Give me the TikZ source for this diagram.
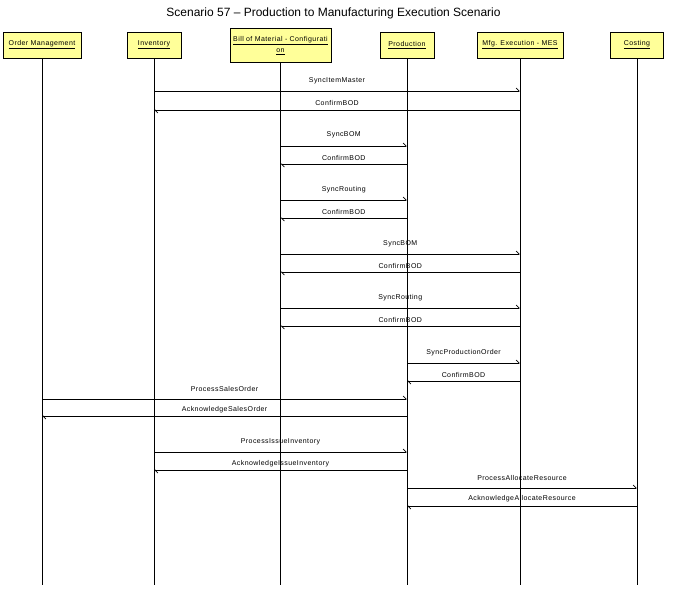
\documentclass[tikz,border=0pt]{standalone}
\usepackage{fontspec}
\setmainfont{Liberation Sans}
\newfontfamily\lblfont[LetterSpace=6]{Liberation Sans}
\usetikzlibrary{arrows.meta,calc}
\definecolor{hdrfill}{HTML}{FFFF99}
\tikzset{
  hdr/.style={draw=black, fill=hdrfill, line width=0.8pt, inner sep=0pt,
    font=\lblfont\fontsize{7}{9}\selectfont, align=center},
  life/.style={line width=0.8pt},
  msg/.style={line width=0.7pt, -{Straight Barb[left,length=3pt,width=6pt]}},
  lbl/.style={font=\lblfont\fontsize{7}{8}\selectfont, inner sep=0pt, yshift=-1.5pt},
  ttl/.style={font=\fontsize{12}{14}\selectfont, inner sep=0pt},
}
\newcommand\msgline[5]{%
  \draw[msg] (#1 |- 0,#3) -- (#2 |- 0,#3);
  \node[lbl] at ($(#1 |- 0,#4)!0.5!(#2 |- 0,#4)$) {#5};
}
\begin{document}
\begin{tikzpicture}[x=1pt,y=-1pt]
\useasboundingbox (0,0) rectangle (674,605);
\node[ttl] (title) at (333.5,13.5) {Scenario 57 – Production to Manufacturing Execution Scenario};

\node[hdr, minimum width=78pt, minimum height=26pt] (om) at (42,45) {\underline{Order Management}};
\node[hdr, minimum width=54pt, minimum height=26pt] (inv) at (154,45) {\underline{Inventory}};
\node[hdr, minimum width=101pt, minimum height=34pt] (bom) at (280.5,45.5) {\underline{Bill of Material - Configurati}\\[2pt]\underline{on}};
\node[hdr, minimum width=54pt, minimum height=26pt] (prod) at (407,45) {\underline{Production}};
\node[hdr, minimum width=86pt, minimum height=26pt] (mes) at (520,45) {\underline{Mfg. Execution - MES}};
\node[hdr, minimum width=53pt, minimum height=26pt] (cost) at (637,45) {\underline{Costing}};

\foreach \n in {om,inv,bom,prod,mes,cost}{
  \coordinate (\n end) at (\n.south |- 0,585);
  \draw[life] (\n.south) -- (\n end);
}

\msgline{inv}{mes}{91}{79}{SyncItemMaster}
\msgline{mes}{inv}{110}{101}{ConfirmBOD}
\msgline{bom}{prod}{146}{133}{SyncBOM}
\msgline{prod}{bom}{164}{156}{ConfirmBOD}
\msgline{bom}{prod}{200}{188}{SyncRouting}
\msgline{prod}{bom}{218}{210}{ConfirmBOD}
\msgline{bom}{mes}{254}{242}{SyncBOM}
\msgline{mes}{bom}{272}{264}{ConfirmBOD}
\msgline{bom}{mes}{308}{296}{SyncRouting}
\msgline{mes}{bom}{326}{318}{ConfirmBOD}
\msgline{prod}{mes}{363}{351}{SyncProductionOrder}
\msgline{mes}{prod}{381}{373}{ConfirmBOD}
\msgline{om}{prod}{399}{387}{ProcessSalesOrder}
\msgline{prod}{om}{416}{408}{AcknowledgeSalesOrder}
\msgline{inv}{prod}{452}{440}{ProcessIssueInventory}
\msgline{prod}{inv}{470}{462}{AcknowledgeIssueInventory}
\msgline{prod}{cost}{488}{476}{ProcessAllocateResource}
\msgline{cost}{prod}{506}{497}{AcknowledgeAllocateResource}
\end{tikzpicture}
\end{document}
